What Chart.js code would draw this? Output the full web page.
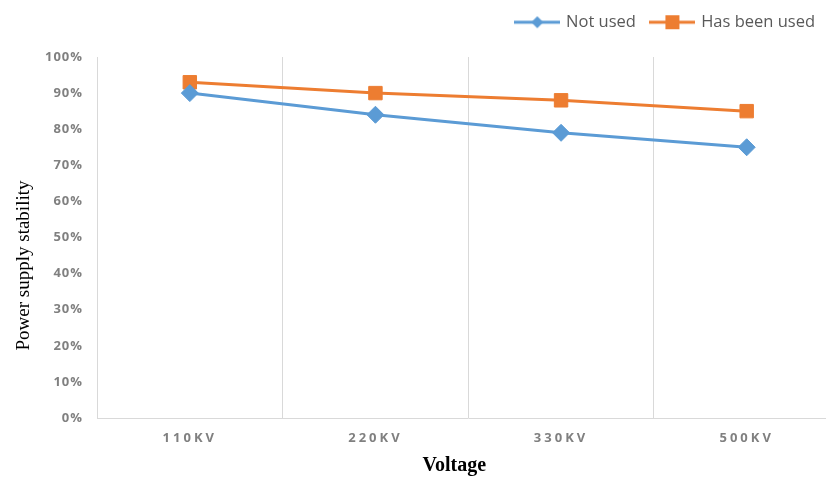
<!DOCTYPE html>
<html>
<head>
<meta charset="utf-8">
<title>Power supply stability</title>
<script src="https://cdn.jsdelivr.net/npm/chart.js@4.4.1/dist/chart.umd.min.js"></script>
<style>
    html, body { margin: 0; padding: 0; background: #fff; overflow: hidden; }
    /* canvas is a bit wider than the window, the last column is cut off like in the picture */
    #wrap { position: relative; width: 850px; height: 478px; }
</style>
</head>
<body>
<div id="wrap"><canvas id="stabilityChart"></canvas></div>
<script>
// Data
const voltages = ['110KV', '220KV', '330KV', '500KV'];
const notUsed = [90, 84, 79, 75];
const hasBeenUsed = [93, 90, 88, 85];
const seriesNames = ['Not used', 'Has been used'];

const blue = '#5b9bd5';
const orange = '#ed7d31';
const tickGray = '#808080';

// Legend marker: short line with the point symbol in the middle
function legendMarker(color, shape) {
    let c = document.createElement('canvas');
    c.width = 46;
    c.height = 16;
    let g = c.getContext('2d');
    g.strokeStyle = color;
    g.lineWidth = 3;
    g.beginPath();
    g.moveTo(0, 8);
    g.lineTo(46, 8);
    g.stroke();
    g.fillStyle = color;
    if (shape === 'diamond') {
        g.beginPath();
        g.moveTo(23, 2);
        g.lineTo(29, 8);
        g.lineTo(23, 14);
        g.lineTo(17, 8);
        g.closePath();
        g.fill();
    } else {
        g.fillRect(16, 1, 14, 14);
    }
    return c;
}
const markers = [legendMarker(blue, 'diamond'), legendMarker(orange, 'square')];

// Small layout tweaks: legend height / right edge, letter spacing, title offsets
const layoutTweaks = {
    id: 'layoutTweaks',
    beforeLayout(chart) {
        let legend = chart.legend;
        if (legend && !legend.fitPatched) {
            let fit = legend.fit;
            legend.fit = function () {
                fit.call(this);
                this.height = 59;
            };
            legend.fitPatched = true;
        }
    },
    afterLayout(chart) {
        chart.legend.right = 831;

        let x = chart.scales.x;
        let y = chart.scales.y;
        if (!x.patched) {
            let xLabels = x.drawLabels;
            x.drawLabels = function (area) {
                chart.ctx.letterSpacing = '3px';
                xLabels.call(this, area);
                chart.ctx.letterSpacing = '0px';
            };
            let xTitle = x.drawTitle;
            x.drawTitle = function () {
                chart.ctx.save();
                chart.ctx.translate(-14, 0);
                xTitle.call(this);
                chart.ctx.restore();
            };
            x.patched = true;
        }
        if (!y.patched) {
            let yLabels = y.drawLabels;
            y.drawLabels = function (area) {
                chart.ctx.letterSpacing = '1px';
                yLabels.call(this, area);
                chart.ctx.letterSpacing = '0px';
            };
            let yTitle = y.drawTitle;
            y.drawTitle = function () {
                chart.ctx.save();
                chart.ctx.translate(0, 28);
                yTitle.call(this);
                chart.ctx.restore();
            };
            y.patched = true;
        }
    }
};

function initChart() {
    new Chart(document.getElementById('stabilityChart'), {
        type: 'line',
        data: {
            labels: voltages,
            datasets: [{
                label: seriesNames[0],
                data: notUsed,
                borderColor: blue,
                backgroundColor: blue,
                borderWidth: 3,
                pointStyle: 'rectRot',
                pointRadius: 8.5,
                pointHoverRadius: 8.5,
                pointBorderWidth: 1,
                tension: 0
            }, {
                label: seriesNames[1],
                data: hasBeenUsed,
                borderColor: orange,
                backgroundColor: orange,
                borderWidth: 3,
                pointStyle: 'rect',
                pointRadius: 9.5,
                pointHoverRadius: 9.5,
                pointBorderWidth: 1,
                tension: 0
            }]
        },
        options: {
            responsive: true,
            maintainAspectRatio: false,
            animation: false,
            layout: { padding: { top: -2, left: 0, right: 0, bottom: 0 } },
            plugins: {
                tooltip: { enabled: false },
                legend: {
                    position: 'top',
                    align: 'end',
                    labels: {
                        usePointStyle: true,
                        pointStyleWidth: 41,
                        boxHeight: 16,
                        padding: 16,
                        color: '#595959',
                        font: { family: '"Open Sans", sans-serif', size: 16.5 },
                        generateLabels(chart) {
                            let items = Chart.defaults.plugins.legend.labels.generateLabels(chart);
                            items.forEach((item, i) => { item.pointStyle = markers[i]; });
                            return items;
                        }
                    }
                }
            },
            scales: {
                x: {
                    offset: true,
                    grid: { offset: true, color: '#d9d9d9', lineWidth: 1, drawTicks: false },
                    border: { display: true, color: '#d9d9d9', width: 1 },
                    ticks: {
                        color: tickGray,
                        padding: 12,
                        font: { family: '"Open Sans", sans-serif', size: 13, weight: 'bold' }
                    },
                    title: {
                        display: true,
                        text: 'Voltage',
                        color: '#000',
                        padding: { top: 0, bottom: 0 },
                        font: { family: '"Liberation Serif", serif', size: 20, weight: 'bold' }
                    },
                    afterFit(scale) { scale.height = 60; }
                },
                y: {
                    min: 0,
                    max: 100,
                    grid: { display: false, drawTicks: false },
                    border: { display: true, color: '#d9d9d9', width: 1 },
                    ticks: {
                        stepSize: 10,
                        color: tickGray,
                        padding: 14,
                        font: { family: '"Open Sans", sans-serif', size: 13, weight: 'bold' },
                        callback: (v) => v + '%'
                    },
                    title: {
                        display: true,
                        text: 'Power supply stability',
                        color: '#000',
                        padding: { top: 13, bottom: 0 },
                        font: { family: '"Liberation Serif", serif', size: 19 }
                    },
                    afterFit(scale) { scale.width = 97; }
                }
            }
        },
        plugins: [layoutTweaks]
    });
}

document.addEventListener('DOMContentLoaded', initChart);
</script>
</body>
</html>
